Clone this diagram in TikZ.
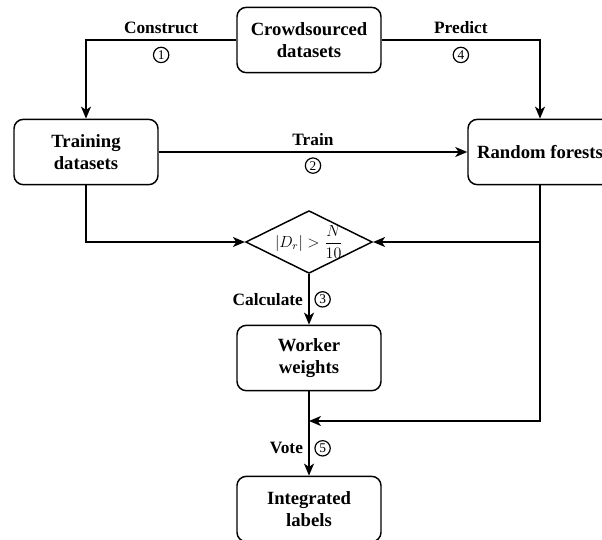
\documentclass[tikz,border=0pt]{standalone}
\usepackage{fontspec}
\setmainfont{Liberation Serif}
\usetikzlibrary{arrows.meta,shapes.geometric}

\tikzset{
  box/.style={shape=rectangle, draw=black, line width=1.1pt, rounded corners=7pt,
    minimum width=108pt, minimum height=49pt, align=center,
    font=\fontsize{14}{16}\selectfont\bfseries},
  lbl/.style={font=\fontsize{13}{15}\selectfont\bfseries, inner sep=1pt},
  num/.style={shape=circle, draw=black, line width=0.9pt, inner sep=0pt,
    minimum size=11.5pt, font=\fontsize{10}{10}\selectfont},
  flow/.style={->, line width=1.1pt}
}

\begin{document}
\begin{tikzpicture}[x=0.75pt, y=-0.75pt, >={Stealth[length=9pt, width=7.5pt, inset=2.5pt]}]
\useasboundingbox (0,0) rectangle (602,539);

% boxes
\node[box] (C) at (309,40) {Crowdsourced\\datasets};
\node[box] (T) at (86,152) {Training\\datasets};
\node[box] (R) at (540,152) {Random forests};
\node[shape=diamond, draw=black, line width=1.1pt, shape aspect=2, inner sep=-1pt,
  minimum width=95pt, minimum height=47pt] (D) at (309,242)
  {\fontsize{12}{13}\selectfont$\displaystyle |D_r| > \frac{N}{10}$};
\node[box] (W) at (309,358) {Worker\\weights};
\node[box] (I) at (309,509) {Integrated\\labels};
\coordinate (J) at (309,421);

% connectors
\draw[flow] (C.west) -| node[pos=0.25, lbl, above=3pt] {Construct}
  node[pos=0.25, num, below=5pt] {1} (T.north);
\draw[flow] (C.east) -| node[pos=0.25, lbl, above=3pt] {Predict}
  node[pos=0.25, num, below=5pt] {4} (R.north);
\draw[flow] (T.east) -- node[lbl, above=3pt] {Train}
  node[num, below=4pt] {2} (R.west);
\draw[flow] (T.south) |- (D.west);
\draw[flow] (R.south) |- (D.east);
\draw[flow] (R.south) |- (J);
\draw[flow] (D.south) -- node[lbl, left=3pt] {Calculate}
  node[num, right=4pt] {3} (W.north);
\draw[line width=1.1pt] (W.south) -- (J);
\draw[flow] (J) -- node[lbl, left=3pt] {Vote}
  node[num, right=4pt] {5} (I.north);
\end{tikzpicture}
\end{document}
